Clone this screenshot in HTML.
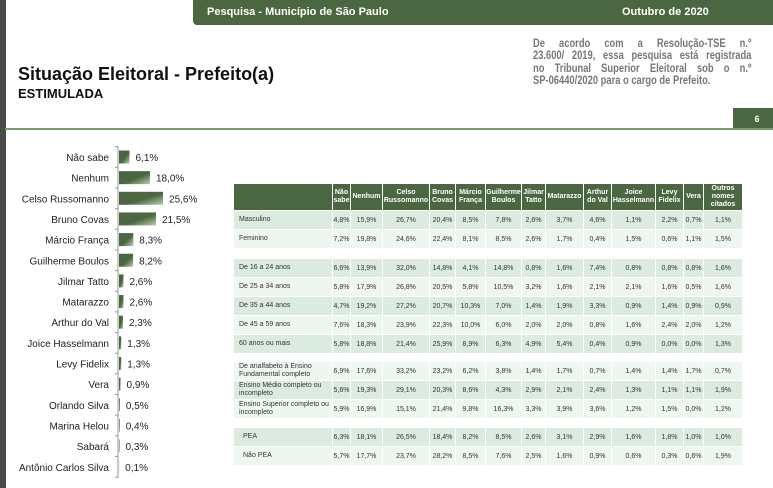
<!DOCTYPE html>
<html><head><meta charset="utf-8"><style>
body{margin:0;width:773px;height:488px;background:#fff;position:relative;overflow:hidden;font-family:"Liberation Sans",sans-serif;}
.abs{position:absolute;}
#tbl{position:absolute;left:0;top:0;}
.c{position:absolute;font-size:7px;color:#333;display:flex;align-items:center;justify-content:center;box-sizing:border-box;}
.h{background:#4a6741;color:#fff;font-weight:bold;text-align:center;line-height:8px;}
.ln{text-align:justify;text-align-last:justify;height:12.3px;white-space:nowrap;}
</style></head><body>
<div class="abs" style="left:0;top:0;width:6px;height:488px;background:#4a4a4a"></div>
<div class="abs" style="left:193px;top:0;width:580px;height:25px;background:#4a6741;border-bottom-left-radius:4px"></div>
<div class="abs" style="left:207px;top:6px;font-size:11px;font-weight:bold;color:#fff">Pesquisa - Município de São Paulo</div>
<div class="abs" style="left:622px;top:6px;font-size:11px;font-weight:bold;color:#fff">Outubro de 2020</div>
<div class="abs" style="left:18px;top:64px;font-size:18px;font-weight:bold;color:#111">Situação Eleitoral - Prefeito(a)</div>
<div class="abs" style="left:18px;top:86px;font-size:13px;font-weight:bold;color:#111">ESTIMULADA</div>
<div class="abs" style="left:533px;top:37px;width:280px;transform:scaleX(0.78);transform-origin:0 0;font-size:12px;font-weight:bold;color:#777;line-height:12.3px">
<div class="ln">De acordo com a Resolução-TSE n.º</div>
<div class="ln">23.600/ 2019, essa pesquisa está registrada</div>
<div class="ln">no Tribunal Superior Eleitoral sob o n.º</div>
<div style="white-space:nowrap">SP-06440/2020 para o cargo de Prefeito.</div>
</div>
<div class="abs" style="left:733px;top:108px;width:40px;height:21px;background:#4a6741;color:#fff;font-size:9px;font-weight:bold;display:flex;align-items:center;justify-content:center;padding-left:8px;box-sizing:border-box">6</div>
<div class="abs" style="left:5px;top:128px;width:768px;height:2px;background:#7a9a6a"></div>

<svg class="abs" style="left:0;top:0" width="773" height="488">
<defs><linearGradient id="g" x1="0" y1="0" x2="1" y2="1"><stop offset="0.55" stop-color="#4a6741"/><stop offset="1" stop-color="#b8cfb0"/></linearGradient></defs>
<g id="bars"></g>
</svg>
<div id="tbl"></div>
<script>
const cands=["Não sabe","Nenhum","Celso Russomanno","Bruno Covas","Márcio França","Guilherme Boulos","Jilmar Tatto","Matarazzo","Arthur do Val","Joice Hasselmann","Levy Fidelix","Vera","Orlando Silva","Marina Helou","Sabará","Antônio Carlos Silva"];
const vals=[6.1,18.0,25.6,21.5,8.3,8.2,2.6,2.6,2.3,1.3,1.3,0.9,0.5,0.4,0.3,0.1];
const NS="http://www.w3.org/2000/svg";
const ax=118,y0=157,step=20.65,k=1.72;
const g=document.getElementById('bars');
const axis=document.createElementNS(NS,'line');
axis.setAttribute('x1',ax);axis.setAttribute('x2',ax);axis.setAttribute('y1',146);axis.setAttribute('y2',478);axis.setAttribute('stroke','#999');


g.appendChild(axis);
for(let i=0;i<=cands.length;i++){
 const tk=document.createElementNS(NS,'line');
 const ty=y0-step/2+i*step;
 tk.setAttribute('x1',ax-3);tk.setAttribute('x2',ax);tk.setAttribute('y1',ty);tk.setAttribute('y2',ty);tk.setAttribute('stroke','#999');
 
 
 g.appendChild(tk);
}
cands.forEach((c,i)=>{
 const y=y0+i*step;
 const t=document.createElementNS(NS,'text');
 t.setAttribute('x',109);t.setAttribute('y',y+4);t.setAttribute('text-anchor','end');t.setAttribute('font-size','10');t.setAttribute('fill','#222');t.setAttribute('font-family','Liberation Sans, sans-serif');t.textContent=c;
 
 
 g.appendChild(t);
 const w=vals[i]*k;
 const r=document.createElementNS(NS,'rect');
 r.setAttribute('x',ax+1);r.setAttribute('y',y-6.5);r.setAttribute('width',w);r.setAttribute('height',13);r.setAttribute('fill','url(#g)');
 
 
 g.appendChild(r);
 const v=document.createElementNS(NS,'text');
 v.setAttribute('x',ax+w+7);v.setAttribute('y',y+4);v.setAttribute('font-size','10');v.setAttribute('fill','#222');v.setAttribute('font-family','Liberation Sans, sans-serif');v.textContent=vals[i].toFixed(1).replace('.',',')+'%';
 
 
 g.appendChild(v);
});

const cols=["Não<br>sabe","Nenhum","Celso<br>Russomanno","Bruno<br>Covas","Márcio<br>França","Guilherme<br>Boulos","Jilmar<br>Tatto","Matarazzo","Arthur<br>do Val","Joice<br>Hasselmann","Levy<br>Fidelix","Vera","Outros<br>nomes<br>citados"];
const rowLabels=["Masculino","Feminino","De 16 a 24 anos","De 25 a 34 anos","De 35 a 44 anos","De 45 a 59 anos","60 anos ou mais","De analfabeto à Ensino Fundamental completo","Ensino Médio completo ou incompleto","Ensino Superior completo ou incompleto","PEA","Não PEA"];
const rowData=[
[4.8,15.9,26.7,20.4,8.5,7.8,2.6,3.7,4.6,1.1,2.2,0.7,1.1],
[7.2,19.8,24.6,22.4,8.1,8.5,2.6,1.7,0.4,1.5,0.6,1.1,1.5],
[6.6,13.9,32.0,14.8,4.1,14.8,0.8,1.6,7.4,0.8,0.8,0.8,1.6],
[5.8,17.9,26.8,20.5,5.8,10.5,3.2,1.6,2.1,2.1,1.6,0.5,1.6],
[4.7,19.2,27.2,20.7,10.3,7.0,1.4,1.9,3.3,0.9,1.4,0.9,0.9],
[7.6,18.3,23.9,22.3,10.0,6.0,2.0,2.0,0.8,1.6,2.4,2.0,1.2],
[5.8,18.8,21.4,25.9,8.9,6.3,4.9,5.4,0.4,0.9,0.0,0.0,1.3],
[6.9,17.6,33.2,23.2,6.2,3.8,1.4,1.7,0.7,1.4,1.4,1.7,0.7],
[5.6,19.3,29.1,20.3,8.6,4.3,2.9,2.1,2.4,1.3,1.1,1.1,1.9],
[5.9,16.9,15.1,21.4,9.8,16.3,3.3,3.9,3.6,1.2,1.5,0.0,1.2],
[6.3,18.1,26.5,18.4,8.2,8.5,2.6,3.1,2.9,1.6,1.8,1.0,1.0],
[5.7,17.7,23.7,28.2,8.5,7.6,2.5,1.6,0.9,0.6,0.3,0.6,1.9]];
const edges=[234,333,351,383,430,456,486,522,546,584,612,656,684,704,743];
const rowTops=[211,230,259,278,297,316,335,362,381,400,428,447];
const tb=document.getElementById('tbl');
function cell(x,y,w,h,html,cls,bg,name){
 const d=document.createElement('div');
 d.className='c '+(cls||'');
 d.style.left=x+'px';d.style.top=y+'px';d.style.width=w+'px';d.style.height=h+'px';
 if(bg)d.style.background=bg;
 d.innerHTML=html;
 
 
 tb.appendChild(d);return d;
}
cell(edges[0],184,edges[1]-edges[0]-1,26,'','h',null,'header-corner');
cols.forEach((c,j)=>cell(edges[j+1],184,edges[j+2]-edges[j+1]-1,26,c,'h',null,'column-header'));
rowLabels.forEach((l,i)=>{
 const y=rowTops[i];
 const bg=i%2===0?'#dcebe0':'#eef6f0';
 const lc=cell(edges[0],y,edges[1]-edges[0]-1,18,l,'',bg,'row-label');
 lc.style.justifyContent='flex-start';lc.style.paddingLeft=(i>=10?'9px':'5px');lc.style.lineHeight='8px';
 rowData[i].forEach((v,j)=>cell(edges[j+1],y,edges[j+2]-edges[j+1]-1,18,v.toFixed(1).replace('.',',')+'%','',bg,'table-value'));
});
</script>
</body></html>
